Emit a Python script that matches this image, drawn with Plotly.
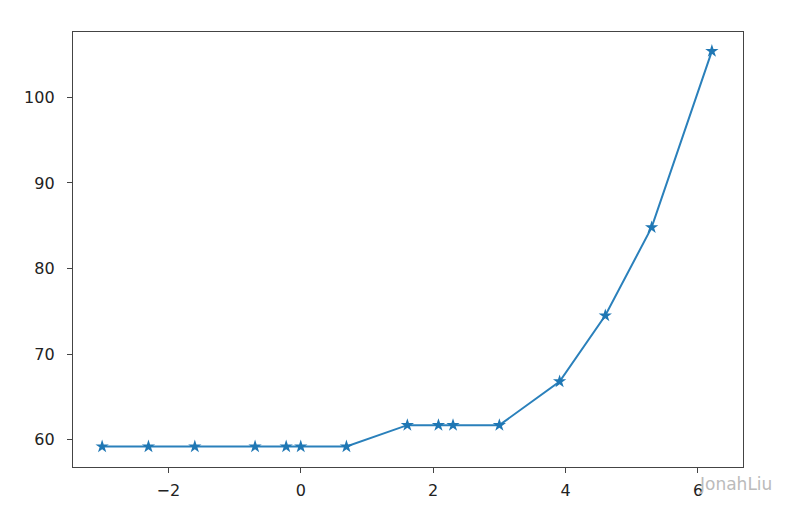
import plotly.graph_objects as go

x_vals = [-3.0, -2.3, -1.6, -0.69, -0.22, 0.0, 0.69, 1.61, 2.08, 2.3, 3.0, 3.91, 4.6, 5.3, 6.21]
y_vals = [59.2, 59.2, 59.2, 59.2, 59.2, 59.2, 59.2, 61.7, 61.7, 61.7, 61.7, 66.8, 74.5, 84.8, 105.4]
x_ticks = [-2, 0, 2, 4, 6]
x_tick_labels = ["\u22122", "0", "2", "4", "6"]
y_ticks = [60, 70, 80, 90, 100]

fig = go.Figure()
fig.add_trace(go.Scatter(
    x=x_vals, y=y_vals, mode="lines+markers",
    line=dict(color="#2a80bb", width=2),
    marker=dict(symbol="star", size=10, color="#1f77b4"),
    showlegend=False,
))

axis_common = dict(
    showgrid=False, zeroline=False, showline=True, mirror=True,
    linecolor="#444", linewidth=1.3, ticks="outside", ticklen=5,
    tickcolor="#444", tickwidth=1.3,
    tickfont=dict(family="DejaVu Sans", size=16, color="#222"),
)

fig.update_xaxes(range=[-3.44, 6.68], tickvals=x_ticks, ticktext=x_tick_labels,
                 ticklabelstandoff=4, **axis_common)
fig.update_yaxes(range=[56.81, 107.63], tickvals=y_ticks, ticklabelstandoff=9, **axis_common)

fig.add_annotation(
    xref="paper", yref="paper", x=1.046, y=-0.04, xanchor="right", yanchor="middle",
    text="JonahLiu", showarrow=False,
    font=dict(family="DejaVu Sans", size=17, color="#bbbbbb"),
)

fig.update_layout(
    width=798, height=516,
    margin=dict(l=65, r=63, t=24, b=57),
    plot_bgcolor="white", paper_bgcolor="white",
)

fig.write_html("out.html")
